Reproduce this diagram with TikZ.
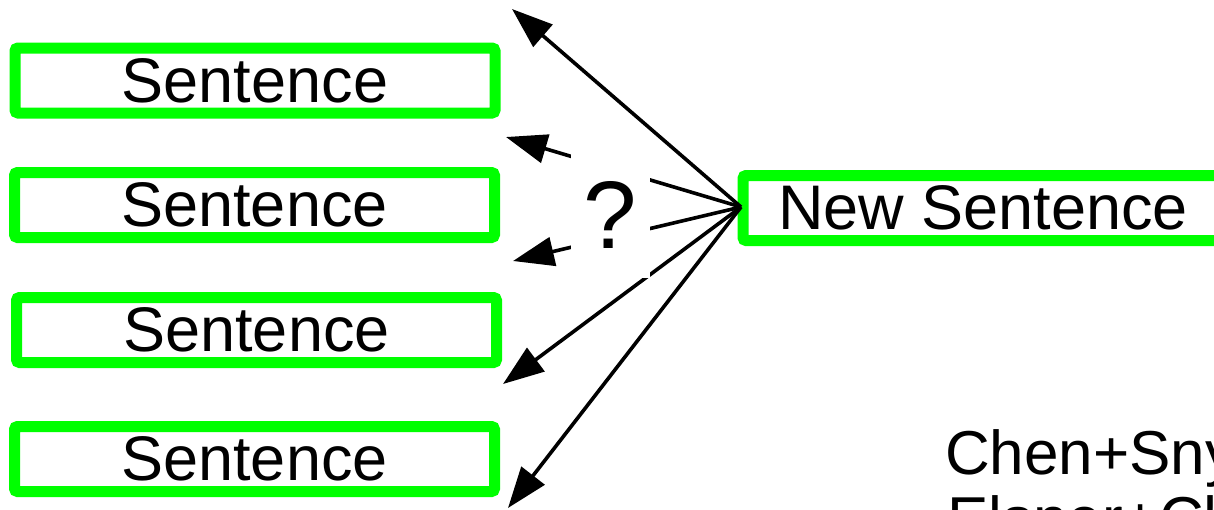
\documentclass[tikz,border=0pt]{standalone}
\usepackage{fontspec}
\setmainfont{Liberation Sans}
\usetikzlibrary{arrows.meta}
\definecolor{boxgreen}{RGB}{0,255,0}
\tikzset{
  sentbox/.style={draw=boxgreen, line width=11pt, rounded corners=3pt, fill=white,
    minimum width=480pt, minimum height=65pt, inner sep=0pt,
    font=\fontsize{63}{70}\selectfont},
  link/.style={line width=3.6pt, -{Triangle[length=41pt,width=29pt]}},
  cite/.style={anchor=base west, inner sep=0pt, font=\fontsize{62}{66}\selectfont}
}
\begin{document}
\begin{tikzpicture}[x=1pt,y=-1pt]
\useasboundingbox (0,0) rectangle (1214,509);
\clip (0,0) rectangle (1214,509);
\node[sentbox] (s1) at (255,80.5) {Sentence};
\node[sentbox] (s2) at (254.5,205) {Sentence};
\node[sentbox] (s3) at (256.5,330) {Sentence};
\node[sentbox] (s4) at (254.5,459) {Sentence};
\node[sentbox] (ns) at (983,208) {New Sentence};
\coordinate (hub) at (741,207);
\coordinate (t1) at (512,9);
\coordinate (t2) at (506,137);
\coordinate (t3) at (513,261);
\coordinate (t4) at (503,384);
\coordinate (t5) at (508,508);
\draw[link] (hub) -- (t1);
\draw[link] (hub) -- (t2);
\draw[link] (hub) -- (t3);
\draw[link] (hub) -- (t4);
\draw[link] (hub) -- (t5);
\node[fill=white, minimum width=79pt, minimum height=126pt, inner sep=0pt,
  font=\fontsize{96}{100}\selectfont] (q) at (610.5,215) {?};
\node[cite] (c1) at (945,474) {Chen+Snyder+Barzilay};
\node[cite] (c2) at (947,540) {Elsner+Charniak};
\end{tikzpicture}
\end{document}
